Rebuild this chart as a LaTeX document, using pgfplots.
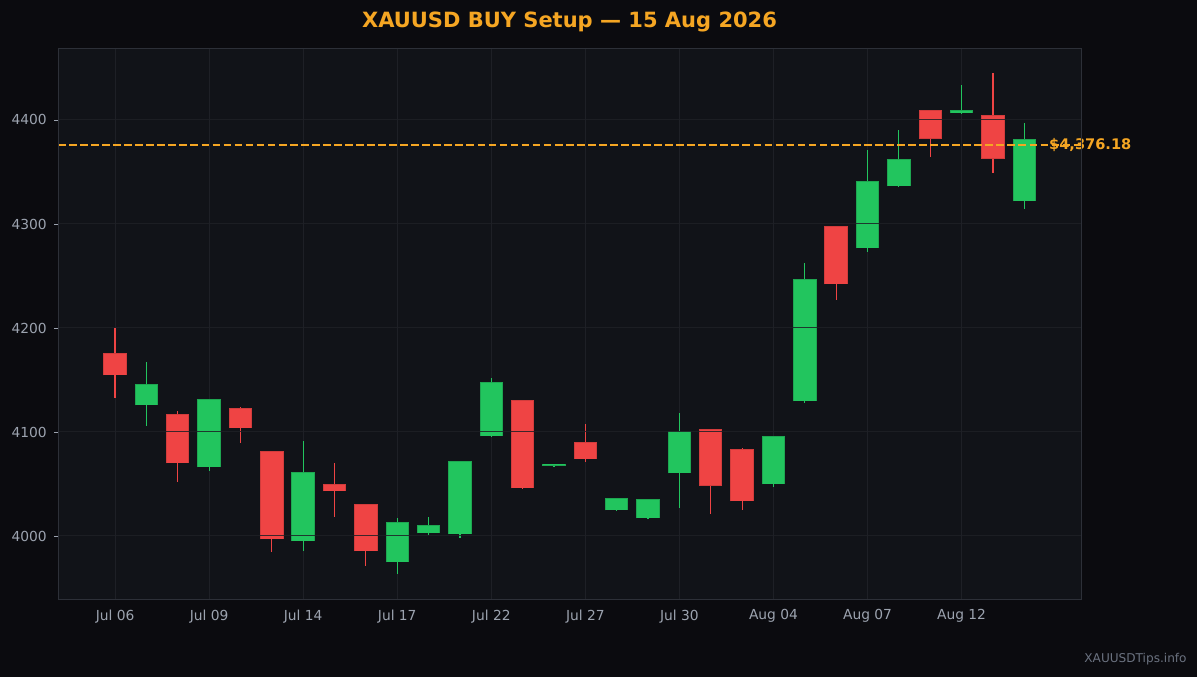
\documentclass[border=0pt]{standalone}
\usepackage{fontspec}
\setmainfont{DejaVu Sans}
\usepackage{pgfplots}
\usepackage{pgfplotstable}
\pgfplotsset{compat=1.18}

\definecolor{figbg}{HTML}{0B0B0F}
\definecolor{axbg}{HTML}{111318}
\definecolor{gridc}{HTML}{1E2026}
\definecolor{framec}{HTML}{2D3038}
\definecolor{tickc}{HTML}{9CA3AF}
\definecolor{upc}{HTML}{22C55E}
\definecolor{upedge}{HTML}{1EA751}
\definecolor{dnc}{HTML}{EF4444}
\definecolor{dnedge}{HTML}{D23C3C}
\definecolor{goldc}{HTML}{F5A623}
\definecolor{markc}{HTML}{6B7280}

% x = trading day index, o h l c
\pgfplotstableread{
x   o       h       l       c
0   4175.6  4200.0  4133.0  4154.5
2   4117.0  4120.2  4052.2  4069.9
4   4122.8  4124.5  4089.8  4103.5
5   4081.4  4081.8  3985.0  3996.8
7   4049.7  4070.0  4018.6  4043.0
8   4030.4  4030.8  3971.5  3985.3
13  4130.4  4131.0  4045.0  4045.9
15  4090.1  4107.7  4071.4  4073.8
19  4102.6  4103.0  4021.2  4048.4
20  4083.3  4084.3  4025.0  4033.3
23  4297.8  4298.0  4227.2  4242.0
26  4409.3  4409.6  4364.7  4382.1
28  4404.5  4445.2  4349.4  4362.8
}\downdays

\pgfplotstableread{
x   o       h       l       c
1   4125.6  4167.3  4106.0  4145.8
3   4066.0  4131.6  4062.8  4131.4
6   3995.0  4091.3  3986.0  4061.2
9   3974.7  4017.3  3963.1  4013.1
10  4002.6  4018.3  4001.3  4010.3
11  4001.6  4071.9  3998.4  4071.8
12  4095.8  4151.9  4095.0  4147.8
14  4067.3  4069.6  4067.0  4069.3
16  4024.7  4036.4  4024.0  4036.2
17  4017.0  4035.4  4016.0  4035.2
18  4060.3  4118.3  4027.0  4100.7
21  4049.7  4096.0  4047.4  4095.8
22  4129.5  4262.5  4128.2  4246.8
24  4276.6  4371.2  4273.4  4341.0
25  4336.2  4390.4  4335.6  4362.2
27  4406.4  4433.7  4406.0  4409.3
29  4321.8  4397.1  4314.7  4381.4
}\updays

\pgfplotsset{
    candle/.style={forget plot, draw=none, mark=none,
        error bars/.cd, y dir=#1, y explicit, error mark=none},
}

\begin{document}
\begin{tikzpicture}
\fill[figbg] (0,0) rectangle (598.5pt,338.5pt);

\begin{axis}[
    at={(29pt,39pt)}, anchor=south west,
    scale only axis,
    width=511.5pt, height=275.5pt,
    xmin=-1.82, xmax=30.81,
    ymin=3939.4, ymax=4469.2,
    axis background/.style={fill=axbg},
    axis line style={framec, line width=0.5pt},
    axis on top,
    ymajorgrids,
    major grid style={gridc, line width=0.5pt, opacity=0.85},
    xtick={0,3,6,9,12,15,18,21,24,27},
    xticklabels={Jul 06, Jul 09, Jul 14, Jul 17, Jul 22, Jul 27, Jul 30, Aug 04, Aug 07, Aug 12},
    ytick={4000,4100,4200,4300,4400},
    /pgf/number format/assume math mode=true,
    /pgf/number format/1000 sep={},
    tick label style={font=\fontsize{6.9pt}{8pt}\selectfont, text=tickc},
    xtick style={draw=none},
    ytick style={tickc, line width=0.4pt},
    tick align=outside,
    major tick length=1.8pt,
    xtick pos=bottom, ytick pos=left,
    yticklabel style={xshift=-0.3pt},
    xticklabel style={yshift=0pt},
    clip=false,
]

% vertical grid, under the candles
\pgfplotsinvokeforeach{0,3,...,27}{
    \draw[gridc, line width=0.5pt] (axis cs:#1,3939.4) -- (axis cs:#1,4469.2);
}

% wicks
\addplot[candle=both, error bar style={draw=dnc, line width=0.6pt}]
    table[x=x, y=c, y error plus expr=\thisrow{h}-\thisrow{c},
          y error minus expr=\thisrow{c}-\thisrow{l}] {\downdays};
\addplot[candle=both, error bar style={draw=upc, line width=0.6pt}]
    table[x=x, y=o, y error plus expr=\thisrow{h}-\thisrow{o},
          y error minus expr=\thisrow{o}-\thisrow{l}] {\updays};

% bodies: edge, then fill
\addplot[candle=plus, error bar style={draw=dnedge, line width=11.7pt, line cap=butt}]
    table[x=x, y=c, y error plus expr=\thisrow{o}-\thisrow{c}] {\downdays};
\addplot[candle=plus, error bar style={draw=dnc, line width=10.7pt, line cap=butt}]
    table[x=x, y expr=\thisrow{c}+0.5, y error plus expr=\thisrow{o}-\thisrow{c}-1] {\downdays};
\addplot[candle=plus, error bar style={draw=upedge, line width=11.7pt, line cap=butt}]
    table[x=x, y=o, y error plus expr=\thisrow{c}-\thisrow{o}] {\updays};
\addplot[candle=plus, error bar style={draw=upc, line width=10.7pt, line cap=butt}]
    table[x=x, y expr=\thisrow{o}+0.5, y error plus expr=\thisrow{c}-\thisrow{o}-1] {\updays};

% entry level
\addplot[goldc, line width=1.04pt, dash pattern=on 3.85pt off 1.67pt]
    coordinates {(-1.82,4376.18) (30.81,4376.18)};
\node[anchor=west, text=goldc, font=\bfseries\fontsize{7.3pt}{8pt}\selectfont, inner sep=0pt]
    at (axis cs:29.78,4376.18) {\$4,376.18};
\end{axis}

\node[text=goldc, font=\bfseries\fontsize{10.5pt}{12pt}\selectfont]
    at (284.75pt,327.5pt) {XAUUSD BUY Setup — 15 Aug 2026};
\node[anchor=east, text=markc, font=\fontsize{6.05pt}{7pt}\selectfont, inner sep=0pt]
    at (593.5pt,9pt) {XAUUSDTips.info};

\pgfresetboundingbox
\useasboundingbox (0,0) rectangle (598.5pt,338.5pt);
\end{tikzpicture}
\end{document}
